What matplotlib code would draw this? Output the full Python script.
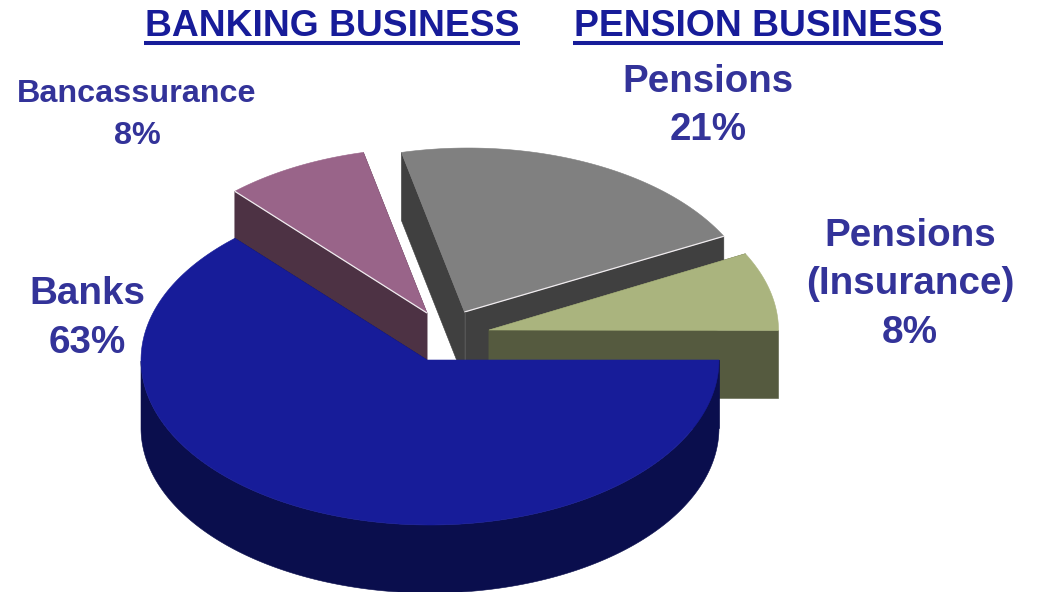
import numpy as np
import matplotlib
matplotlib.use("Agg")
import matplotlib.pyplot as plt
from matplotlib.patches import Polygon

# Data
categories = ["Banks", "Bancassurance", "Pensions", "Pensions\n(Insurance)"]
shares = [63.2, 8.1, 21.0, 7.7]
titles = ["BANKING BUSINESS", "PENSION BUSINESS"]

# Style and layout
top_colors = ["#171C99", "#996489", "#808080", "#AAB47E"]
side_colors = ["#0A0E4D", "#4D3244", "#404040", "#555A3F"]
text_color = "#333399"
title_color = "#171C99"
rx, ry, depth = 289, 165, 68
centers = [(430, 360), (430, 313), (468, 313), (489.5, 330.5)]
apexes = [(427, 360), (427, 313), (464.5, 312), (489, 330)]
label_pos = [(87.5, 294, 49, 27.8), (137, 94, 42, 23.3), (708, 82, 48, 27.7), (910, 236, 48.5, 27.8)]
title_pos = [(332, 26, 144, 520), (758, 26, 573, 943)]
draw_order = [1, 2, 3, 0]

plt.rcParams["font.family"] = ["Liberation Sans", "DejaVu Sans"]
fig = plt.figure(figsize=(10.41, 5.92), dpi=100, facecolor="white")
ax = fig.add_axes([0, 0, 1, 1])
ax.set_xlim(0, 1041)
ax.set_ylim(592, 0)
ax.axis("off")

fractions = np.array(shares) / sum(shares)
ends = -np.cumsum(fractions) * 2 * np.pi
starts = np.concatenate(([0.0], ends[:-1]))


def rim(i, a, b, n=160):
    t = np.linspace(a, b, n)
    cx, cy = centers[i]
    return np.column_stack((cx + rx * np.cos(t), cy - ry * np.sin(t)))


def rim_point(i, a):
    return rim(i, a, a, 1)[0]


def add(points, color, z):
    ax.add_patch(Polygon(points, closed=True, facecolor=color, edgecolor=color, lw=0.4, zorder=z))


def extrude(points, color, z):
    pts = np.asarray(points, dtype=float)
    low = pts[::-1] + np.array([0, depth])
    add(np.vstack((pts, low)), color, z)


for z, i in enumerate(draw_order):
    base = z * 10 + 1
    s, e = starts[i], ends[i]
    ap = np.array(apexes[i])
    p_s, p_e = rim_point(i, s), rim_point(i, e)
    # Cut faces, then the visible outer wall
    extrude([ap, p_s], side_colors[i], base)
    extrude([ap, p_e], side_colors[i], base)
    t = np.linspace(max(s, e), min(s, e), 400)
    # visible outer wall: lower half of the ellipse (sin < 0)
    front = t[np.sin(t) <= 0]
    if front.size > 1:
        extrude(rim(i, front[0], front[-1], 300), side_colors[i], base + 1)
    add(np.vstack((ap, rim(i, s, e, 200))), top_colors[i], base + 2)
    if i in (1, 2):
        edge = p_s if i == 1 else p_e
        ax.plot([ap[0], edge[0]], [ap[1], edge[1]], color="#F0ECEF", lw=0.9, zorder=base + 3,
                solid_capstyle="butt")

ax.plot([apexes[2][0]] * 2, [312, 360], color="#5A5A5A", lw=0.6, zorder=15)

for label, share, (x, y, pitch, size) in zip(categories, shares, label_pos):
    lines = label.split("\n") + [f"{share:.0f}%"]
    for k, line in enumerate(lines):
        ax.text(x, y + k * pitch, line, color=text_color, fontsize=size, fontweight="bold",
                ha="center", va="center", zorder=100)

for title, (x, y, x0, x1) in zip(titles, title_pos):
    ax.text(x, y, title, color=title_color, fontsize=26.8, fontweight="bold",
            ha="center", va="center", zorder=100)
    ax.plot([x0, x1], [42.7, 42.7], color=title_color, lw=2.9, solid_capstyle="butt", zorder=100)

fig.savefig("out.png", dpi=100, facecolor="white")
